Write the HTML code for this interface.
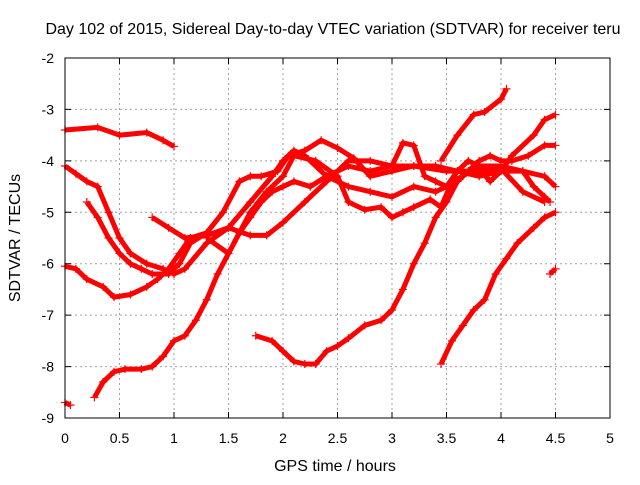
<!DOCTYPE html>
<html><head><meta charset="utf-8"><style>
body{margin:0;background:#fff;}
svg{font-family:"Liberation Sans",sans-serif;}
</style></head><body>
<svg id="chart" width="640" height="480">
<text x="333" y="34" font-size="16" text-anchor="middle">Day 102 of 2015, Sidereal Day-to-day VTEC variation (SDTVAR) for receiver teru</text>
<text x="335" y="471" font-size="16" text-anchor="middle">GPS time / hours</text>
<text transform="translate(20,238) rotate(-90)" font-size="16" text-anchor="middle">SDTVAR / TECUs</text>
<g id="grid"></g><g id="series"></g>
<rect x="65" y="58" width="545" height="360" fill="none" stroke="#000"/>
</svg>
<script>
const xTicks=[0,0.5,1,1.5,2,2.5,3,3.5,4,4.5,5];
const yTicks=[-2,-3,-4,-5,-6,-7,-8,-9];
const s1t=[0,0.3,0.5,0.75,0.9,1.0];
const s1v=[-3.4,-3.35,-3.5,-3.45,-3.6,-3.72];
const s2t=[0,0.1,0.2,0.3,0.4,0.5,0.6,0.75,0.9,1.0,1.1,1.3,1.5,1.7,1.9,2.0,2.1,2.2,2.4,2.6,2.8,3.0,3.2,3.4,3.6];
const s2v=[-4.1,-4.25,-4.4,-4.5,-5.0,-5.5,-5.8,-6.0,-6.1,-6.2,-6.1,-5.6,-5.3,-4.8,-4.3,-4.0,-3.8,-3.9,-4.3,-4.5,-4.6,-4.7,-4.5,-4.6,-4.4];
const s3t=[0,0.1,0.2,0.35,0.45,0.6,0.75,0.85,0.95,1.05,1.15,1.3];
const s3v=[-6.05,-6.1,-6.3,-6.45,-6.65,-6.6,-6.45,-6.3,-6.1,-5.8,-5.5,-5.4];
const s4t=[0,0.05];
const s4v=[-8.7,-8.75];
const s5t=[0.27,0.35,0.45,0.55,0.7,0.8,0.9,1.0,1.1,1.2,1.3,1.4,1.5,1.6,1.7,1.8,1.9,2.0,2.1,2.25,2.4,2.6,2.8,3.0,3.2,3.5,3.8,4.0,4.2,4.4];
const s5v=[-8.6,-8.3,-8.1,-8.05,-8.05,-8.0,-7.8,-7.5,-7.4,-7.1,-6.7,-6.2,-5.8,-5.4,-5.1,-4.8,-4.6,-4.5,-4.4,-4.5,-4.3,-4.1,-4.2,-4.1,-4.1,-4.2,-4.2,-4.15,-4.6,-4.8];
const s6t=[0.2,0.3,0.4,0.5,0.6,0.7,0.8,0.95,1.05,1.15,1.3,1.45,1.6,1.7,1.8,1.95,2.05,2.2,2.35,2.5,2.65,2.8,3.0,3.2,3.4,3.6,3.8,4.0,4.2,4.4,4.5];
const s6v=[-4.8,-5.1,-5.5,-5.8,-6.0,-6.1,-6.2,-6.2,-6.0,-5.6,-5.4,-5.0,-4.4,-4.3,-4.3,-4.2,-3.9,-3.8,-3.6,-3.75,-3.95,-4.3,-4.2,-4.1,-4.1,-4.2,-4.3,-4.2,-4.2,-4.3,-4.5];
const s7t=[0.8,0.95,1.1,1.3,1.5,1.7,1.85,2.0,2.2,2.4,2.6,2.8,3.0,3.1,3.2,3.3,3.4,3.5,3.6,3.7,3.8,4.0,4.2,4.3,4.4,4.45];
const s7v=[-5.1,-5.3,-5.5,-5.45,-5.3,-5.45,-5.45,-5.2,-4.8,-4.4,-4.0,-4.0,-4.1,-3.65,-3.7,-4.3,-4.4,-4.5,-4.2,-4.0,-4.1,-4.1,-4.2,-4.5,-4.7,-4.8];
const s8t=[1.75,1.9,2.0,2.1,2.2,2.3,2.4,2.5,2.6,2.75,2.9,3.0,3.1,3.2,3.3,3.4,3.5,3.6,3.7,3.8,3.9,4.0,4.1,4.3,4.4,4.5];
const s8v=[-7.4,-7.5,-7.7,-7.9,-7.95,-7.95,-7.7,-7.6,-7.45,-7.2,-7.1,-6.9,-6.5,-6.0,-5.6,-5.1,-4.8,-4.4,-4.2,-4.15,-4.4,-4.2,-3.9,-3.5,-3.2,-3.1];
const s9t=[3.45,3.55,3.65,3.75,3.85,3.95,4.05,4.15,4.3,4.4,4.5];
const s9v=[-7.95,-7.5,-7.2,-6.9,-6.7,-6.2,-5.9,-5.6,-5.3,-5.1,-5.0];
const s10t=[4.45,4.5];
const s10v=[-6.2,-6.1];
const s11t=[1.3,1.5,1.7,1.85,2.0,2.1,2.3,2.5,2.6,2.75,2.9,3.0,3.1,3.2,3.35,3.45,3.55,3.65,3.8,3.9,4.0,4.1,4.25,4.4,4.5];
const s11v=[-5.5,-5.8,-5.0,-4.6,-4.3,-3.9,-4.0,-4.3,-4.8,-4.95,-4.9,-5.1,-5.0,-4.9,-4.75,-4.9,-4.4,-4.3,-4.0,-3.9,-4.0,-4.0,-3.9,-3.7,-3.7];
const s12t=[3.45,3.6,3.75,3.85,4.0,4.05];
const s12v=[-4.0,-3.5,-3.1,-3.05,-2.8,-2.6];
const series=[[s1t,s1v],[s2t,s2v],[s3t,s3v],[s4t,s4v],[s5t,s5v],[s6t,s6v],[s7t,s7v],[s8t,s8v],[s9t,s9v],[s10t,s10v],[s11t,s11v],[s12t,s12v]];
const X=t=>65+t*109;
const Y=v=>58+(-2-v)*360/7;
const NS="http://www.w3.org/2000/svg";
const svg=document.getElementById('chart');
const grid=document.getElementById('grid');
const sg=document.getElementById('series');
xTicks.forEach(t=>{
 const x=X(t);
 if(t>0&&t<5){const l=document.createElementNS(NS,'line');
 l.setAttribute('x1',x);l.setAttribute('x2',x);l.setAttribute('y1',58);l.setAttribute('y2',418);
 l.setAttribute('stroke','#a0a0a0');l.setAttribute('stroke-dasharray','2,3');
 
 
 grid.appendChild(l);}
 const tk=document.createElementNS(NS,'path');
 tk.setAttribute('d',`M${x},418v-6M${x},58v6`);tk.setAttribute('stroke','#000');
 
 
 grid.appendChild(tk);
 const tx=document.createElementNS(NS,'text');
 tx.setAttribute('x',x);tx.setAttribute('y',443);tx.setAttribute('font-size','14');tx.setAttribute('text-anchor','middle');
 tx.textContent=String(t);
 
 
 svg.appendChild(tx);
});
yTicks.forEach(v=>{
 const y=Y(v);
 if(v<-2&&v>-9){const l=document.createElementNS(NS,'line');
 l.setAttribute('x1',65);l.setAttribute('x2',610);l.setAttribute('y1',y);l.setAttribute('y2',y);
 l.setAttribute('stroke','#a0a0a0');l.setAttribute('stroke-dasharray','2,3');
 
 
 grid.appendChild(l);}
 const tk=document.createElementNS(NS,'path');
 tk.setAttribute('d',`M65,${y}h6M610,${y}h-6`);tk.setAttribute('stroke','#000');
 
 
 grid.appendChild(tk);
 const tx=document.createElementNS(NS,'text');
 tx.setAttribute('x',54);tx.setAttribute('y',y+5);tx.setAttribute('font-size','14');tx.setAttribute('text-anchor','end');
 tx.textContent=String(v);
 
 
 svg.appendChild(tx);
});
series.forEach((s,i)=>{
 const [ts,vs]=s;
 const p=document.createElementNS(NS,'polyline');
 p.setAttribute('points',ts.map((t,j)=>X(t)+','+Y(vs[j])).join(' '));
 p.setAttribute('fill','none');p.setAttribute('stroke','#ff0000');p.setAttribute('stroke-width','5');p.setAttribute('stroke-linejoin','round');
 
 
 sg.appendChild(p);
 ts.forEach((t,j)=>{
  const m=document.createElementNS(NS,'path');
  const x=X(t),y=Y(vs[j]);
  m.setAttribute('d',`M${x-4},${y}h8M${x},${y-4}v8`);m.setAttribute('stroke','#ff0000');m.setAttribute('stroke-width','1.2');
  
  
  sg.appendChild(m);
 });
});
</script>
</body></html>
